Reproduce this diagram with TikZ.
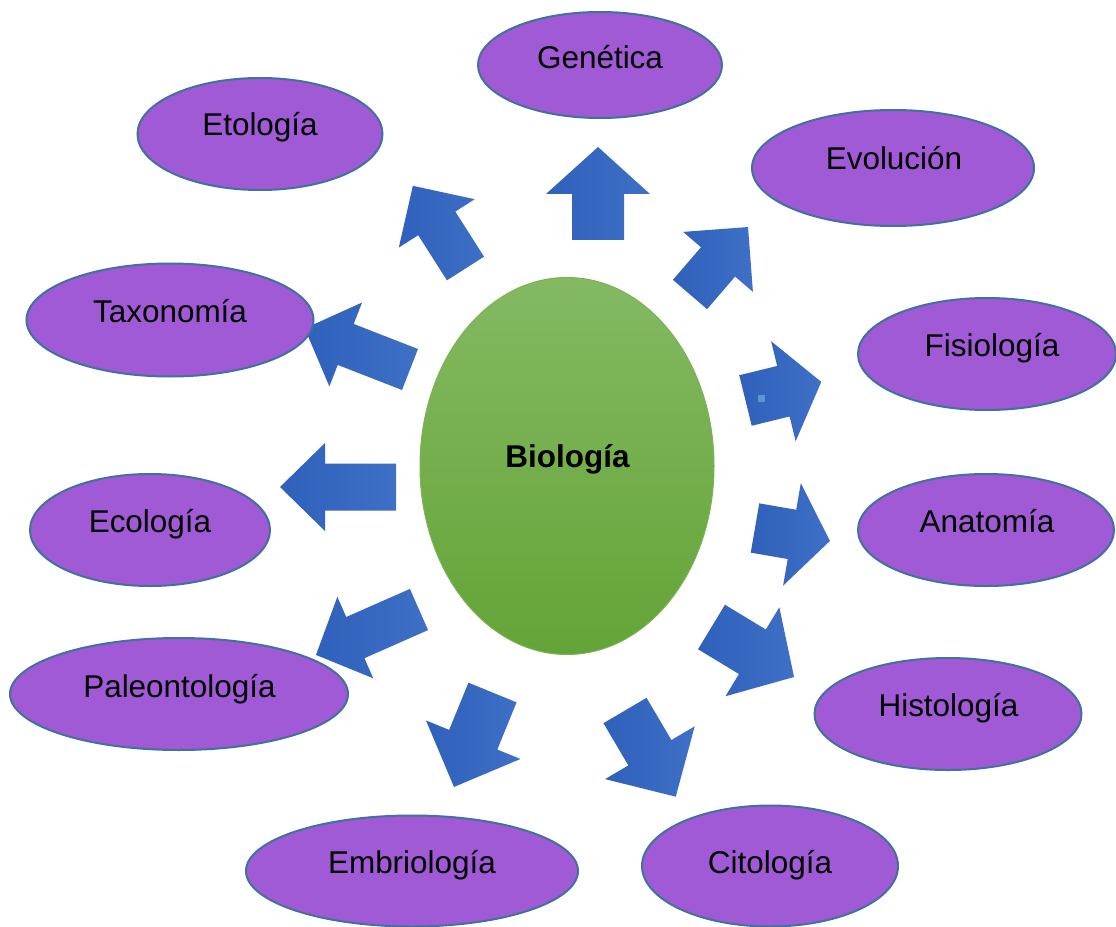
\documentclass[tikz,border=0pt]{standalone}
\usepackage{fontspec}
\setmainfont{Liberation Sans}
\usetikzlibrary{shapes.geometric}
\definecolor{purp}{HTML}{A05AD6}
\definecolor{purpline}{HTML}{41719C}
\definecolor{arrdark}{HTML}{2F60BB}
\definecolor{arrlight}{HTML}{3F70C6}
\definecolor{gtop}{HTML}{84B962}
\definecolor{gbot}{HTML}{64A437}
\definecolor{speck}{HTML}{5A96D2}
\tikzset{
  arrowfill/.style={left color=arrdark, right color=arrlight},
  pics/blockarrow/.style args={#1/#2/#3/#4}{code={
    \path[arrowfill] (0,-#3) -- ({#1-#2},-#3) -- ({#1-#2},-#4) -- (#1,0)
       -- ({#1-#2},#4) -- ({#1-#2},#3) -- (0,#3) -- cycle;}},
  topic/.style={ellipse, draw=purpline, line width=1.5pt, fill=purp, inner sep=0pt},
  lbl/.style={font=\fontsize{23.6}{28}\selectfont, anchor=base, inner sep=0pt, text=black},
}
\begin{document}
\begin{tikzpicture}[x=0.75pt, y=-0.75pt]
\useasboundingbox (0,0) rectangle (1116,927);
\fill[white] (0,0) rectangle (1116,927);

% block arrows (tail centre, direction, length/head length/shaft half/head half)
\pic[rotate=90]     at (598,240)     {blockarrow=93/47/26/52};
\pic[rotate=122.5]  at (465.5,268.5) {blockarrow=98/44.5/22/45};
\pic[rotate=49.3]   at (690,294.5)   {blockarrow=89/46/22.5/46};
\pic[rotate=13.8]   at (745.5,400.5) {blockarrow=78/39/26/51.5};
\pic[rotate=-9.8]   at (755,528)     {blockarrow=76/38.5/25/52};
\pic[rotate=-31.2]  at (711.5,627)   {blockarrow=96.5/48.7/26/52};
\pic[rotate=-59.5]  at (625,710.5)   {blockarrow=100/51/25/52};
\pic[rotate=-112.2] at (492.5,692.5) {blockarrow=102/51/26/51};
\pic[rotate=-156.2] at (419,609.5)   {blockarrow=112.6/43/22.5/44.5};
\pic[rotate=180]    at (396,487)     {blockarrow=116/45/23.5/44};
\pic[rotate=158.7]  at (410,369.5)   {blockarrow=113/44/22/45};
\fill[speck] (758,395) rectangle (765,402);

% central node
\node[ellipse, inner sep=0pt, top color=gtop, bottom color=gbot, draw=gtop!70!gbot,
      line width=0.75pt, minimum width=220.5pt, minimum height=282.75pt] (bio) at (567,466) {};
\node[lbl, font=\fontsize{23.6}{28}\selectfont\bfseries] (tbio) at (567.5,467) {Biología};

% topics
\node[topic, minimum width=183pt,    minimum height=79.5pt]  (gen) at (600,65)  {};
\node[topic, minimum width=183.75pt, minimum height=84pt]    (eto) at (260,134) {};
\node[topic, minimum width=211.5pt,  minimum height=87pt]    (evo) at (893,168) {};
\node[topic, minimum width=215.25pt, minimum height=84.75pt] (tax) at (170,320) {};
\node[topic, minimum width=193.5pt,  minimum height=84pt]    (fis) at (987,354) {};
\node[topic, minimum width=180pt,    minimum height=84pt]    (eco) at (150,530) {};
\node[topic, minimum width=192pt,    minimum height=84pt]    (ana) at (986,530) {};
\node[topic, minimum width=253.5pt,  minimum height=84pt]    (pal) at (179,694) {};
\node[topic, minimum width=200.25pt, minimum height=84pt]    (his) at (948,714) {};
\node[topic, minimum width=249pt,    minimum height=83.25pt] (emb) at (412,871) {};
\node[topic, minimum width=192pt,    minimum height=90.75pt] (cit) at (770,866) {};

\node[lbl] (tgen) at (600,69)    {Genética};
\node[lbl] (teto) at (260,136)   {Etología};
\node[lbl] (tevo) at (894,170)   {Evolución};
\node[lbl] (ttax) at (170,322)   {Taxonomía};
\node[lbl] (tfis) at (992,356)   {Fisiología};
\node[lbl] (teco) at (150,532)   {Ecología};
\node[lbl] (tana) at (987,532)   {Anatomía};
\node[lbl] (tpal) at (179.5,697) {Paleontología};
\node[lbl] (this) at (948.5,716) {Histología};
\node[lbl] (temb) at (412,873)   {Embriología};
\node[lbl] (tcit) at (770,873)   {Citología};
\end{tikzpicture}
\end{document}
